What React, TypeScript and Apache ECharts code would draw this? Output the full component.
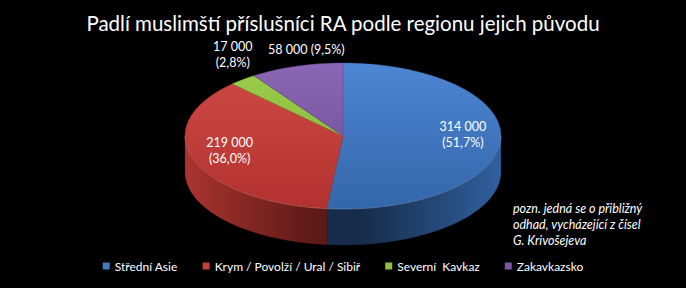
import React, { useEffect, useRef } from "react";
import * as echarts from "echarts";

// ---- data ----
const titleText = "Padlí muslimští příslušníci RA podle regionu jejich původu";
const categories = ["Střední Asie", "Krym / Povolží / Ural / Sibiř", "Severní  Kavkaz", "Zakavkazsko"];
const values = [314000, 219000, 17000, 58000];
const shareLabels = ["51,7", "36,0", "2,8", "9,5"];
const noteLines = ["pozn. jedná se o přibližný", "odhad, vycházející z čísel", "G. Krivošejeva"];

// ---- styles ----
const baseColors = ["#4277c2", "#c33f3c", "#8fbf3f", "#7c58a4"];
const topLight = ["#4d86d3", "#cf4a46", "#9cce4b", "#8a66b4"];
const topDark = ["#3466aa", "#b2322f", "#80b036", "#6c4a93"];
const sideLight = ["#30609e", "#ab3430", "#7aa533", "#5e4282"];
const sideDark = ["#172c4a", "#5e1a17", "#3e561a", "#33224a"];
const labelPlacement = ["inside", "inside", "outside", "outside"];
const labelWrap = [true, true, true, false];
const labelShiftX = [0, 0, -10, 10];
const FONT = "Lato, 'Open Sans', sans-serif";

const total = values.reduce((a, b) => a + b, 0);
const fmt = (n: number) => String(n).replace(/\B(?=(\d{3})+(?!\d))/g, "\u00a0");

export default function App() {
  const ref = useRef<HTMLDivElement>(null);
  useEffect(() => {
    if (!ref.current) return;
    const chart = echarts.init(ref.current, undefined, { renderer: "svg" });

    const CY = 136, RX = 158, RY = 73, DEPTH = 36;
    const rad = (d: number) => (d * Math.PI) / 180;

    const makeRender = (i: number) => (params: any, api: any) => {
      const v = api.value(0);
      const before = api.value(1);
      const tot = api.value(2);
      const W = api.getWidth();
      const cx = W / 2;
      const pt = (a: number, dy = 0) => [cx + RX * Math.cos(rad(a)), CY - RY * Math.sin(rad(a)) + dy];
      const arc = (from: number, to: number, dy = 0) => {
        const pts: number[][] = [];
        const n = Math.max(2, Math.ceil(Math.abs(to - from)));
        for (let k = 0; k <= n; k++) pts.push(pt(from + ((to - from) * k) / n, dy));
        return pts;
      };
      const a1 = 90 - (360 * before) / tot;
      const a2 = a1 - (360 * v) / tot;
      const children: any[] = [];

      // side (front half only)
      const fronts = [[-180, 0], [-540, -360]];
      fronts.forEach(([lo, hi]) => {
        const s = Math.min(a1, hi);
        const e = Math.max(a2, lo);
        if (s > e) {
          const pts = arc(s, e).concat(arc(e, s, DEPTH));
          children.push({
            type: "polygon",
            shape: { points: pts },
            style: {
              fill: new echarts.graphic.LinearGradient(cx - RX, 0, cx + RX, 0, [
                { offset: 0, color: sideLight[i] },
                { offset: 0.4, color: sideDark[i] },
                { offset: 0.56, color: sideDark[i] },
                { offset: 1, color: sideLight[i] },
              ], true),
              stroke: sideDark[i],
              lineWidth: 0.4,
            },
          });
          children.push({
            type: "polyline",
            shape: { points: arc(s, e) },
            style: { fill: null, stroke: "rgba(255,255,255,0.18)", lineWidth: 1 },
            z2: 5,
          });
        }
      });

      // top face
      const topPts = [[cx, CY]].concat(arc(a1, a2));
      children.push({
        type: "polygon",
        shape: { points: topPts },
        style: {
          fill: new echarts.graphic.LinearGradient(0, CY - RY, 0, CY + RY, [
            { offset: 0, color: topLight[i] },
            { offset: 1, color: topDark[i] },
          ], true),
          stroke: topDark[i],
          lineWidth: 0.4,
        },
        z2: 2,
      });

      // label
      const mid = (a1 + a2) / 2;
      const txt = `${fmt(v)}${labelWrap[i] ? "\n" : " "}(${shareLabels[i]}%)`;
      let lx: number, ly: number, va: string;
      if (labelPlacement[i] === "inside") {
        const p = [cx + 0.76 * RX * Math.cos(rad(mid)), CY - 0.76 * RY * Math.sin(rad(mid)) - 4];
        lx = p[0]; ly = p[1]; va = "middle";
      } else {
        const p = pt(mid);
        lx = p[0] + labelShiftX[i]; ly = p[1] - 9; va = "bottom";
      }
      children.push({
        type: "text",
        x: lx,
        y: ly,
        z2: 10,
        style: {
          text: txt,
          fill: "#ffffff",
          fontSize: 12.5,
          fontFamily: FONT,
          lineHeight: 16,
          align: "center",
          verticalAlign: va,
        },
      });
      return { type: "group", children };
    };

    let cum = 0;
    const series = values.map((v, i) => {
      const s = {
        type: "custom",
        name: categories[i],
        coordinateSystem: "none",
        renderItem: makeRender(i),
        itemStyle: { color: baseColors[i] },
        data: [[v, cum, total]],
        silent: true,
      };
      cum += v;
      return s;
    });

    chart.setOption({
      animation: false,
      backgroundColor: "#000000",
      color: baseColors,
      title: {
        text: titleText,
        left: "center",
        top: 7,
        textStyle: { color: "#ffffff", fontSize: 20.5, fontWeight: "normal", fontFamily: FONT },
      },
      legend: {
        data: categories,
        top: 260,
        left: "center",
        icon: "rect",
        itemWidth: 7,
        itemHeight: 7,
        itemGap: 25,
        padding: 0,
        textStyle: { color: "#ffffff", fontSize: 12, fontFamily: FONT },
      },
      graphic: [
        {
          type: "text",
          left: 513,
          top: 200,
          style: {
            text: noteLines.join("\n"),
            fill: "#ffffff",
            fontSize: 12.5,
            fontStyle: "italic",
            fontFamily: FONT,
            lineHeight: 16,
          },
        },
      ],
      series,
    } as any);
    return () => chart.dispose();
  }, []);
  return (
    <div
      ref={ref}
      style={{ position: "fixed", left: 0, top: 0, width: 686, height: 288, background: "#000" }}
    />
  );
}
